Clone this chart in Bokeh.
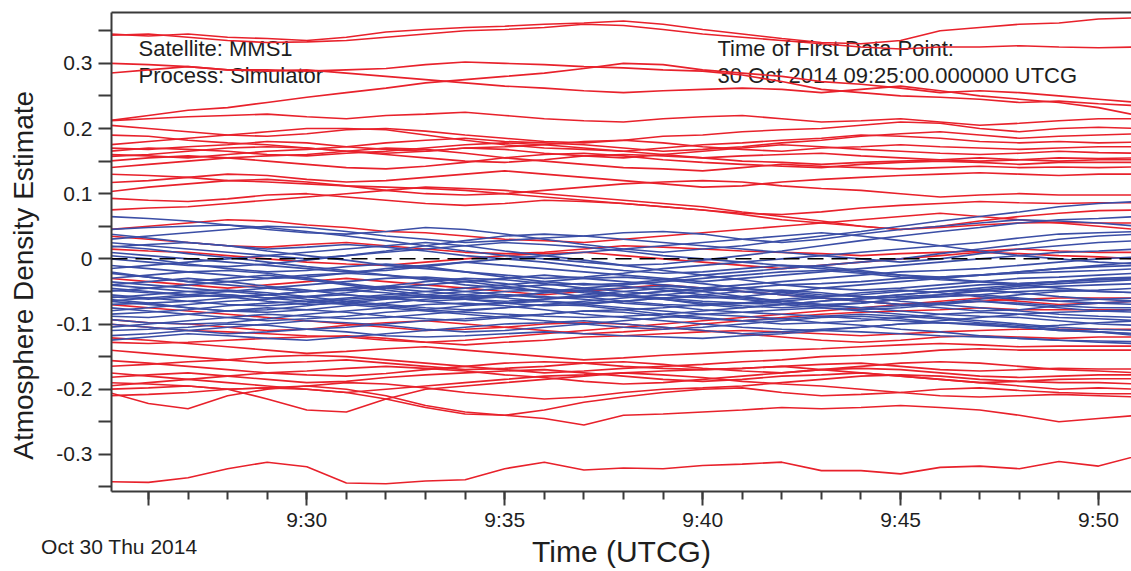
import pandas as pd
from bokeh.plotting import figure
from bokeh.models import (Range1d, FixedTicker, CustomJSTickFormatter, LinearAxis,
                          Label, Span)
from bokeh.embed import file_html
from bokeh.resources import INLINE

# ---------------- data ----------------
day = "2014-10-30"
minutes = ["09:25", "09:26", "09:27", "09:28", "09:29", "09:30", "09:31", "09:32", "09:33",
           "09:34", "09:35", "09:36", "09:37", "09:38", "09:39", "09:40", "09:41", "09:42",
           "09:43", "09:44", "09:45", "09:46", "09:47", "09:48", "09:49", "09:50", "09:51"]
x_major = ["09:30", "09:35", "09:40", "09:45", "09:50"]
date_tick = "09:26"
date_text = "Oct 30 Thu 2014"
x_title = "Time (UTCG)"
y_title = "Atmosphere Density Estimate"
x_start = "09:25:04"
x_end = "09:50:50"
y_major = [-0.3, -0.2, -0.1, 0, 0.1, 0.2, 0.3]
y_minor = [-0.35, -0.25, -0.15, -0.05, 0.05, 0.15, 0.25, 0.35]
y_low, y_high = -0.357, 0.378
info_left = ["Satellite: MMS1", "Process: Simulator"]
info_right = ["Time of First Data Point:", "30 Oct 2014 09:25:00.000000 UTCG"]

# red runs (outside bounds)
r01 = [0.345,0.342,0.345,0.34,0.338,0.335,0.34,0.348,0.352,0.355,0.357,0.36,0.362,0.365,0.36,0.352,0.345,0.338,0.332,0.33,0.335,0.35,0.355,0.36,0.362,0.368,0.37]
r02 = [0.343,0.345,0.34,0.335,0.332,0.333,0.335,0.34,0.345,0.35,0.352,0.355,0.36,0.358,0.352,0.345,0.34,0.335,0.33,0.325,0.322,0.325,0.325,0.327,0.325,0.324,0.325]
r03 = [0.30,0.298,0.295,0.29,0.29,0.288,0.29,0.292,0.298,0.302,0.3,0.298,0.295,0.293,0.29,0.288,0.282,0.272,0.26,0.255,0.25,0.248,0.245,0.24,0.242,0.238,0.235]
r04 = [0.285,0.29,0.295,0.29,0.288,0.29,0.285,0.28,0.275,0.27,0.265,0.262,0.258,0.255,0.258,0.26,0.262,0.26,0.255,0.26,0.265,0.258,0.25,0.245,0.24,0.232,0.22]
r05 = [0.212,0.22,0.228,0.232,0.24,0.248,0.255,0.262,0.27,0.275,0.28,0.285,0.292,0.3,0.298,0.29,0.285,0.28,0.272,0.268,0.262,0.255,0.258,0.255,0.25,0.245,0.24]
r06 = [0.212,0.215,0.218,0.22,0.222,0.218,0.215,0.22,0.222,0.225,0.22,0.215,0.212,0.21,0.215,0.218,0.22,0.215,0.21,0.212,0.215,0.21,0.205,0.208,0.212,0.215,0.215]
r07 = [0.205,0.2,0.195,0.19,0.188,0.192,0.198,0.2,0.196,0.19,0.185,0.18,0.178,0.182,0.188,0.19,0.195,0.198,0.2,0.205,0.21,0.208,0.2,0.195,0.2,0.202,0.2]
r08 = [0.175,0.18,0.185,0.19,0.195,0.2,0.2,0.198,0.19,0.182,0.175,0.17,0.168,0.165,0.17,0.175,0.178,0.182,0.185,0.19,0.188,0.185,0.18,0.178,0.18,0.178,0.179]
r09 = [0.17,0.168,0.172,0.175,0.18,0.178,0.172,0.168,0.165,0.17,0.172,0.175,0.18,0.182,0.178,0.172,0.168,0.165,0.17,0.172,0.175,0.172,0.17,0.168,0.17,0.172,0.172]
r10 = [0.165,0.17,0.168,0.165,0.16,0.158,0.162,0.165,0.17,0.175,0.178,0.175,0.17,0.165,0.16,0.155,0.158,0.16,0.162,0.158,0.155,0.152,0.15,0.152,0.155,0.154,0.155]
r11 = [0.157,0.16,0.165,0.17,0.172,0.17,0.165,0.16,0.155,0.15,0.148,0.152,0.158,0.16,0.158,0.155,0.15,0.148,0.145,0.148,0.15,0.152,0.155,0.152,0.15,0.152,0.152]
r12 = [0.15,0.155,0.158,0.155,0.15,0.145,0.14,0.138,0.142,0.148,0.155,0.16,0.162,0.158,0.152,0.148,0.145,0.142,0.14,0.145,0.148,0.15,0.148,0.145,0.148,0.148,0.148]
r13 = [0.14,0.145,0.15,0.155,0.158,0.16,0.165,0.17,0.168,0.162,0.155,0.15,0.145,0.14,0.138,0.135,0.14,0.145,0.142,0.14,0.138,0.14,0.142,0.14,0.141,0.14,0.141]
r14 = [0.117,0.12,0.125,0.13,0.128,0.122,0.118,0.12,0.125,0.13,0.135,0.13,0.125,0.12,0.115,0.11,0.112,0.118,0.122,0.125,0.128,0.13,0.132,0.13,0.128,0.13,0.13]
r15 = [0.103,0.11,0.115,0.12,0.122,0.118,0.112,0.105,0.1,0.098,0.1,0.105,0.11,0.115,0.118,0.12,0.118,0.112,0.108,0.105,0.1,0.095,0.098,0.1,0.098,0.098,0.098]
r16 = [0.093,0.09,0.088,0.092,0.098,0.1,0.095,0.09,0.085,0.082,0.085,0.09,0.088,0.085,0.08,0.075,0.07,0.068,0.072,0.078,0.082,0.085,0.088,0.086,0.085,0.086,0.086]
r17 = [0.075,0.078,0.08,0.085,0.09,0.095,0.1,0.105,0.11,0.108,0.105,0.1,0.095,0.09,0.085,0.08,0.072,0.065,0.058,0.05,0.045,0.05,0.058,0.065,0.07,0.074,0.075]
r18 = [0.13,0.128,0.125,0.12,0.118,0.115,0.112,0.11,0.108,0.105,0.1,0.095,0.09,0.085,0.08,0.075,0.068,0.06,0.055,0.05,0.045,0.048,0.052,0.055,0.056,0.055,0.055]
r19 = [0.045,0.05,0.055,0.06,0.058,0.052,0.048,0.042,0.04,0.035,0.03,0.028,0.025,0.03,0.035,0.04,0.045,0.05,0.055,0.06,0.065,0.07,0.065,0.06,0.055,0.05,0.045]
r20 = [0.035,0.03,0.025,0.02,0.018,0.022,0.025,0.02,0.015,0.01,0.008,0.01,0.015,0.02,0.018,0.015,0.012,0.01,0.008,0.005,0.008,0.01,0.012,0.015,0.012,0.01,0.01]
r21 = [0.015,0.012,0.01,0.005,0.0,-0.005,-0.008,-0.01,-0.005,0.0,0.005,0.008,0.01,0.005,0.0,-0.005,-0.01,-0.015,-0.01,-0.005,0.0,0.005,0.01,0.008,0.005,0.003,0.0]
r22 = [-0.03,-0.035,-0.04,-0.045,-0.04,-0.035,-0.03,-0.035,-0.04,-0.045,-0.05,-0.055,-0.05,-0.045,-0.04,-0.045,-0.05,-0.055,-0.06,-0.065,-0.07,-0.065,-0.06,-0.065,-0.07,-0.068,-0.065]
r23 = [-0.205,-0.222,-0.23,-0.21,-0.2,-0.195,-0.19,-0.192,-0.198,-0.205,-0.21,-0.215,-0.212,-0.205,-0.2,-0.198,-0.195,-0.19,-0.185,-0.18,-0.178,-0.18,-0.185,-0.188,-0.19,-0.19,-0.192]
r24 = [-0.2,-0.198,-0.195,-0.2,-0.215,-0.232,-0.235,-0.215,-0.2,-0.195,-0.19,-0.185,-0.18,-0.175,-0.172,-0.17,-0.168,-0.165,-0.162,-0.16,-0.165,-0.17,-0.172,-0.17,-0.168,-0.169,-0.169]
r25 = [-0.21,-0.208,-0.205,-0.2,-0.198,-0.2,-0.205,-0.215,-0.228,-0.238,-0.24,-0.245,-0.255,-0.24,-0.238,-0.235,-0.232,-0.228,-0.23,-0.228,-0.225,-0.228,-0.232,-0.24,-0.25,-0.245,-0.24]
r26 = [-0.19,-0.192,-0.195,-0.2,-0.198,-0.195,-0.2,-0.21,-0.225,-0.235,-0.24,-0.232,-0.22,-0.212,-0.205,-0.2,-0.198,-0.205,-0.21,-0.208,-0.205,-0.2,-0.198,-0.202,-0.205,-0.207,-0.207]
r27 = [-0.182,-0.178,-0.175,-0.18,-0.185,-0.19,-0.188,-0.182,-0.178,-0.175,-0.172,-0.17,-0.175,-0.18,-0.185,-0.188,-0.185,-0.18,-0.178,-0.175,-0.18,-0.185,-0.19,-0.188,-0.185,-0.184,-0.184]
r28 = [-0.156,-0.16,-0.165,-0.17,-0.175,-0.178,-0.18,-0.176,-0.17,-0.165,-0.16,-0.158,-0.16,-0.165,-0.168,-0.17,-0.168,-0.165,-0.17,-0.175,-0.18,-0.185,-0.19,-0.195,-0.2,-0.198,-0.2]
r29 = [-0.165,-0.162,-0.158,-0.155,-0.15,-0.148,-0.15,-0.155,-0.16,-0.165,-0.17,-0.175,-0.172,-0.168,-0.165,-0.162,-0.158,-0.155,-0.15,-0.148,-0.145,-0.14,-0.138,-0.14,-0.14,-0.14,-0.14]
r30 = [-0.121,-0.125,-0.13,-0.135,-0.14,-0.145,-0.142,-0.138,-0.135,-0.14,-0.145,-0.15,-0.155,-0.152,-0.148,-0.145,-0.142,-0.14,-0.138,-0.135,-0.132,-0.13,-0.132,-0.135,-0.134,-0.134,-0.134]
r31 = [-0.128,-0.13,-0.128,-0.125,-0.122,-0.12,-0.118,-0.122,-0.128,-0.132,-0.128,-0.125,-0.12,-0.118,-0.115,-0.112,-0.11,-0.112,-0.115,-0.118,-0.115,-0.112,-0.11,-0.108,-0.108,-0.108,-0.108]
r32 = [-0.093,-0.098,-0.1,-0.105,-0.11,-0.108,-0.102,-0.098,-0.095,-0.1,-0.105,-0.11,-0.115,-0.112,-0.108,-0.1,-0.095,-0.09,-0.085,-0.082,-0.08,-0.078,-0.075,-0.078,-0.078,-0.078,-0.078]
r33 = [-0.1,-0.105,-0.11,-0.112,-0.115,-0.118,-0.12,-0.125,-0.128,-0.125,-0.12,-0.115,-0.11,-0.105,-0.1,-0.095,-0.09,-0.085,-0.08,-0.075,-0.07,-0.068,-0.065,-0.062,-0.06,-0.06,-0.06]
r34 = [-0.14,-0.145,-0.15,-0.155,-0.16,-0.158,-0.155,-0.16,-0.165,-0.17,-0.168,-0.165,-0.16,-0.158,-0.162,-0.168,-0.172,-0.175,-0.17,-0.168,-0.17,-0.175,-0.18,-0.182,-0.18,-0.178,-0.178]
r35 = [-0.07,-0.075,-0.08,-0.085,-0.09,-0.095,-0.1,-0.105,-0.11,-0.108,-0.105,-0.1,-0.098,-0.1,-0.105,-0.11,-0.115,-0.12,-0.125,-0.128,-0.125,-0.12,-0.118,-0.12,-0.122,-0.12,-0.12]
r36 = [-0.342,-0.343,-0.336,-0.322,-0.312,-0.319,-0.344,-0.345,-0.341,-0.339,-0.322,-0.312,-0.324,-0.321,-0.322,-0.317,-0.315,-0.312,-0.325,-0.325,-0.33,-0.32,-0.318,-0.322,-0.311,-0.318,-0.302]
r37 = [0.19,0.188,0.182,0.178,0.175,0.17,0.165,0.162,0.165,0.17,0.168,0.162,0.158,0.155,0.16,0.165,0.17,0.175,0.172,0.168,0.165,0.162,0.16,0.162,0.165,0.163,0.162]
r38 = [0.16,0.158,0.155,0.16,0.165,0.168,0.172,0.178,0.182,0.185,0.18,0.178,0.175,0.17,0.165,0.168,0.172,0.178,0.182,0.188,0.192,0.195,0.19,0.185,0.188,0.19,0.192]
r39 = [-0.175,-0.18,-0.185,-0.19,-0.195,-0.2,-0.205,-0.2,-0.195,-0.19,-0.185,-0.18,-0.178,-0.175,-0.178,-0.182,-0.188,-0.192,-0.195,-0.2,-0.205,-0.21,-0.212,-0.21,-0.208,-0.21,-0.212]
r40 = [-0.195,-0.19,-0.185,-0.18,-0.175,-0.172,-0.168,-0.165,-0.168,-0.172,-0.178,-0.182,-0.188,-0.192,-0.19,-0.185,-0.18,-0.175,-0.17,-0.165,-0.16,-0.158,-0.16,-0.165,-0.17,-0.172,-0.175]

# blue runs (inside bounds)
b01 = [0.065,0.062,0.058,0.052,0.045,0.04,0.038,0.042,0.048,0.045,0.038,0.03,0.022,0.015,0.01,0.015,0.02,0.028,0.035,0.042,0.05,0.058,0.065,0.072,0.08,0.085,0.088]
b02 = [0.03,0.035,0.04,0.045,0.05,0.048,0.042,0.035,0.03,0.025,0.028,0.032,0.035,0.04,0.042,0.038,0.03,0.025,0.03,0.038,0.045,0.05,0.055,0.06,0.058,0.055,0.05]
b03 = [0.025,0.02,0.015,0.01,0.005,0.0,0.005,0.012,0.02,0.028,0.035,0.038,0.035,0.03,0.025,0.02,0.015,0.01,0.005,0.0,-0.005,0.0,0.008,0.015,0.02,0.025,0.028]
b04 = [0.018,0.022,0.025,0.02,0.012,0.005,-0.002,-0.01,-0.015,-0.02,-0.025,-0.03,-0.028,-0.022,-0.015,-0.01,-0.005,0.0,0.005,0.01,0.015,0.02,0.025,0.032,0.038,0.04,0.042]
b05 = [0.01,0.005,0.0,-0.005,-0.01,-0.015,-0.02,-0.018,-0.012,-0.005,0.0,0.005,0.01,0.015,0.02,0.025,0.03,0.035,0.04,0.035,0.028,0.02,0.012,0.005,0.0,-0.005,-0.008]
b06 = [-0.01,-0.015,-0.02,-0.025,-0.03,-0.028,-0.022,-0.015,-0.01,-0.005,-0.01,-0.015,-0.02,-0.025,-0.03,-0.035,-0.03,-0.025,-0.02,-0.015,-0.01,-0.005,0.0,0.005,0.01,0.012,0.015]
b07 = [-0.015,-0.01,-0.005,0.0,0.005,0.01,0.015,0.02,0.025,0.02,0.012,0.005,-0.002,-0.01,-0.018,-0.025,-0.032,-0.04,-0.045,-0.048,-0.045,-0.04,-0.035,-0.03,-0.028,-0.025,-0.022]
b08 = [-0.022,-0.028,-0.035,-0.04,-0.045,-0.05,-0.048,-0.042,-0.035,-0.03,-0.032,-0.038,-0.045,-0.05,-0.055,-0.06,-0.058,-0.052,-0.045,-0.04,-0.035,-0.03,-0.025,-0.02,-0.015,-0.012,-0.01]
b09 = [-0.03,-0.025,-0.02,-0.018,-0.022,-0.03,-0.038,-0.045,-0.05,-0.055,-0.06,-0.065,-0.068,-0.065,-0.06,-0.055,-0.05,-0.048,-0.052,-0.058,-0.065,-0.07,-0.075,-0.08,-0.085,-0.088,-0.09]
b10 = [-0.04,-0.045,-0.05,-0.055,-0.06,-0.058,-0.052,-0.045,-0.04,-0.035,-0.03,-0.025,-0.03,-0.035,-0.04,-0.045,-0.05,-0.055,-0.06,-0.065,-0.07,-0.068,-0.062,-0.055,-0.05,-0.048,-0.045]
b11 = [-0.048,-0.052,-0.055,-0.05,-0.045,-0.04,-0.035,-0.03,-0.028,-0.032,-0.038,-0.045,-0.052,-0.058,-0.062,-0.068,-0.072,-0.075,-0.072,-0.068,-0.062,-0.058,-0.055,-0.06,-0.065,-0.068,-0.07]
b12 = [-0.055,-0.06,-0.065,-0.07,-0.072,-0.068,-0.062,-0.058,-0.055,-0.05,-0.045,-0.04,-0.038,-0.042,-0.048,-0.055,-0.06,-0.065,-0.07,-0.075,-0.08,-0.085,-0.088,-0.09,-0.095,-0.1,-0.102]
b13 = [-0.06,-0.055,-0.05,-0.048,-0.052,-0.058,-0.065,-0.07,-0.075,-0.078,-0.075,-0.07,-0.065,-0.06,-0.055,-0.05,-0.045,-0.04,-0.038,-0.035,-0.03,-0.028,-0.025,-0.022,-0.02,-0.018,-0.015]
b14 = [-0.065,-0.07,-0.075,-0.08,-0.082,-0.078,-0.072,-0.068,-0.062,-0.058,-0.055,-0.058,-0.062,-0.068,-0.072,-0.078,-0.082,-0.085,-0.088,-0.092,-0.095,-0.098,-0.1,-0.105,-0.11,-0.112,-0.115]
b15 = [-0.07,-0.068,-0.065,-0.06,-0.055,-0.05,-0.045,-0.042,-0.045,-0.05,-0.055,-0.06,-0.058,-0.055,-0.05,-0.045,-0.04,-0.035,-0.03,-0.025,-0.02,-0.018,-0.015,-0.01,-0.005,0.0,0.003]
b16 = [-0.075,-0.08,-0.085,-0.09,-0.095,-0.092,-0.088,-0.082,-0.078,-0.072,-0.068,-0.065,-0.07,-0.075,-0.08,-0.085,-0.082,-0.078,-0.075,-0.08,-0.085,-0.09,-0.095,-0.1,-0.105,-0.108,-0.11]
b17 = [-0.085,-0.082,-0.078,-0.072,-0.068,-0.065,-0.06,-0.055,-0.05,-0.045,-0.04,-0.035,-0.03,-0.028,-0.032,-0.038,-0.045,-0.052,-0.058,-0.055,-0.05,-0.045,-0.04,-0.038,-0.035,-0.032,-0.03]
b18 = [-0.093,-0.098,-0.1,-0.098,-0.092,-0.085,-0.08,-0.075,-0.07,-0.068,-0.072,-0.078,-0.085,-0.09,-0.095,-0.1,-0.105,-0.108,-0.11,-0.112,-0.115,-0.118,-0.12,-0.122,-0.125,-0.128,-0.13]
b19 = [-0.118,-0.115,-0.11,-0.105,-0.1,-0.095,-0.098,-0.102,-0.108,-0.112,-0.11,-0.105,-0.1,-0.095,-0.09,-0.085,-0.088,-0.092,-0.098,-0.102,-0.108,-0.112,-0.118,-0.122,-0.125,-0.126,-0.127]
b20 = [-0.125,-0.12,-0.115,-0.118,-0.122,-0.125,-0.12,-0.115,-0.11,-0.105,-0.1,-0.098,-0.095,-0.1,-0.105,-0.11,-0.115,-0.112,-0.108,-0.105,-0.1,-0.095,-0.09,-0.085,-0.082,-0.08,-0.078]
b21 = [0.045,0.048,0.05,0.052,0.048,0.042,0.035,0.028,0.02,0.012,0.005,0.0,-0.005,-0.01,-0.008,-0.002,0.005,0.012,0.02,0.028,0.035,0.042,0.048,0.055,0.06,0.062,0.065]
b22 = [0.0,-0.005,-0.01,-0.012,-0.008,-0.002,0.005,0.01,0.015,0.02,0.025,0.022,0.018,0.012,0.005,0.0,-0.005,-0.01,-0.015,-0.02,-0.025,-0.03,-0.035,-0.04,-0.045,-0.05,-0.052]
b23 = [-0.035,-0.04,-0.045,-0.05,-0.055,-0.062,-0.068,-0.072,-0.078,-0.082,-0.085,-0.088,-0.09,-0.088,-0.085,-0.08,-0.075,-0.07,-0.065,-0.06,-0.055,-0.05,-0.045,-0.04,-0.035,-0.03,-0.028]
b24 = [-0.05,-0.045,-0.04,-0.035,-0.03,-0.025,-0.022,-0.025,-0.03,-0.035,-0.042,-0.05,-0.058,-0.065,-0.07,-0.072,-0.068,-0.062,-0.058,-0.052,-0.048,-0.052,-0.058,-0.062,-0.065,-0.062,-0.06]
b25 = [-0.058,-0.062,-0.058,-0.055,-0.06,-0.065,-0.07,-0.075,-0.08,-0.085,-0.09,-0.095,-0.1,-0.105,-0.108,-0.105,-0.1,-0.095,-0.09,-0.088,-0.092,-0.098,-0.102,-0.105,-0.102,-0.098,-0.095]
b26 = [-0.08,-0.075,-0.07,-0.065,-0.062,-0.058,-0.055,-0.06,-0.065,-0.062,-0.058,-0.052,-0.048,-0.045,-0.042,-0.045,-0.05,-0.055,-0.06,-0.062,-0.058,-0.055,-0.05,-0.045,-0.042,-0.04,-0.038]
b27 = [-0.1,-0.105,-0.11,-0.115,-0.112,-0.108,-0.105,-0.1,-0.095,-0.092,-0.088,-0.085,-0.08,-0.078,-0.075,-0.07,-0.068,-0.07,-0.075,-0.078,-0.075,-0.07,-0.065,-0.068,-0.072,-0.075,-0.075]
b28 = [0.02,0.015,0.008,0.002,-0.005,-0.012,-0.018,-0.025,-0.032,-0.04,-0.045,-0.05,-0.045,-0.04,-0.035,-0.03,-0.025,-0.02,-0.018,-0.022,-0.028,-0.032,-0.035,-0.038,-0.035,-0.032,-0.03]
b29 = [-0.045,-0.05,-0.055,-0.058,-0.055,-0.05,-0.048,-0.052,-0.058,-0.062,-0.065,-0.062,-0.058,-0.055,-0.05,-0.048,-0.045,-0.05,-0.055,-0.058,-0.06,-0.058,-0.055,-0.05,-0.048,-0.05,-0.052]
b30 = [-0.11,-0.108,-0.105,-0.1,-0.102,-0.108,-0.112,-0.118,-0.12,-0.118,-0.115,-0.112,-0.115,-0.118,-0.12,-0.122,-0.118,-0.115,-0.11,-0.105,-0.1,-0.098,-0.1,-0.105,-0.11,-0.112,-0.115]
b31 = [-0.02,-0.028,-0.035,-0.03,-0.025,-0.032,-0.04,-0.048,-0.055,-0.06,-0.058,-0.052,-0.048,-0.055,-0.062,-0.07,-0.075,-0.07,-0.065,-0.06,-0.055,-0.05,-0.048,-0.052,-0.058,-0.062,-0.065]
b32 = [-0.065,-0.06,-0.055,-0.058,-0.065,-0.07,-0.068,-0.062,-0.058,-0.062,-0.068,-0.072,-0.07,-0.065,-0.06,-0.058,-0.062,-0.068,-0.072,-0.075,-0.072,-0.068,-0.065,-0.07,-0.075,-0.08,-0.082]
b33 = [-0.088,-0.09,-0.085,-0.08,-0.075,-0.078,-0.082,-0.088,-0.092,-0.095,-0.09,-0.085,-0.08,-0.082,-0.088,-0.092,-0.095,-0.1,-0.098,-0.095,-0.09,-0.085,-0.082,-0.085,-0.09,-0.092,-0.095]
b34 = [0.005,0.0,-0.008,-0.015,-0.02,-0.018,-0.012,-0.008,-0.012,-0.02,-0.028,-0.035,-0.04,-0.038,-0.032,-0.025,-0.02,-0.015,-0.01,-0.005,0.0,0.008,0.015,0.022,0.03,0.035,0.038]
b35 = [-0.04,-0.035,-0.03,-0.035,-0.042,-0.048,-0.055,-0.06,-0.065,-0.07,-0.068,-0.062,-0.055,-0.05,-0.045,-0.05,-0.058,-0.065,-0.07,-0.068,-0.062,-0.055,-0.048,-0.042,-0.038,-0.035,-0.032]
b36 = [-0.105,-0.1,-0.095,-0.09,-0.085,-0.088,-0.092,-0.09,-0.085,-0.08,-0.075,-0.07,-0.072,-0.078,-0.085,-0.09,-0.095,-0.092,-0.088,-0.085,-0.088,-0.092,-0.098,-0.102,-0.108,-0.112,-0.118]
b37 = [0.038,0.032,0.025,0.02,0.015,0.018,0.022,0.018,0.012,0.005,0.0,-0.005,-0.012,-0.018,-0.022,-0.02,-0.015,-0.01,-0.012,-0.018,-0.025,-0.028,-0.025,-0.02,-0.015,-0.01,-0.005]
b38 = [-0.062,-0.068,-0.075,-0.08,-0.078,-0.072,-0.065,-0.06,-0.058,-0.055,-0.05,-0.048,-0.05,-0.055,-0.06,-0.065,-0.068,-0.065,-0.06,-0.065,-0.07,-0.075,-0.08,-0.078,-0.072,-0.068,-0.065]

red_runs = [r01, r02, r03, r04, r05, r06, r07, r08, r09, r10, r11, r12, r13, r14, r15, r16, r17, r18,
            r19, r20, r21, r22, r23, r24, r25, r26, r27, r28, r29, r30, r31, r32, r33, r34, r35, r36,
            r37, r38, r39, r40]
blue_runs = [b01, b02, b03, b04, b05, b06, b07, b08, b09, b10, b11, b12, b13, b14, b15,
             b16, b17, b18, b19, b20, b21, b22, b23, b24, b25, b26, b27, b28, b29, b30,
             b31, b32, b33, b34, b35, b36, b37, b38]

# ---------------- helpers ----------------
def ms(hhmm):
    return pd.Timestamp(f"{day} {hhmm}").value / 1e6

t_ms = [ms(m) for m in minutes]
NB = "\u00a0"

FONT = "Liberation Sans"
TXT = "#1e1e1e"
AX = "#3a3a3a"
RED = "#e8212b"
BLUE = "#3b4ea6"

p = figure(width=1131, height=571, x_axis_type="datetime", output_backend="svg",
           toolbar_location=None, min_border_left=111, min_border_right=0,
           min_border_top=12, min_border_bottom=78,
           x_range=Range1d(ms(x_start), ms(x_end)), y_range=Range1d(y_low, y_high))
p.outline_line_color = None
p.xgrid.visible = False
p.ygrid.visible = False
p.background_fill_color = "white"
p.border_fill_color = "white"

# in-plot texts (under the lines)
for txt, sx, sy in [(info_left[0], 27, 443), (info_left[1], 27, 416),
                    (info_right[0], 606, 443), (info_right[1], 606, 416)]:
    p.add_layout(Label(x=sx, y=sy, x_units="screen", y_units="screen", text=txt,
                       text_font=FONT, text_font_size="22px", text_color=TXT,
                       text_baseline="alphabetic", level="underlay"))

p.multi_line([t_ms[:len(v)] for v in red_runs], red_runs, line_color=RED, line_width=1.6)
p.multi_line([t_ms[:len(v)] for v in blue_runs], blue_runs, line_color=BLUE, line_width=1.6)

p.add_layout(Span(location=0, dimension="width", line_color="black", line_width=1.5,
                  line_dash="16 8"))

# x axis: minute ticks, 5-minute labels, plus the date in a second line
xa = p.xaxis[0]
xa.ticker = FixedTicker(ticks=[ms(date_tick)] + [ms(m) for m in x_major], minor_ticks=t_ms)
xa.formatter = CustomJSTickFormatter(
    args=dict(date_tick=ms(date_tick), date_text=date_text + NB * 10),
    code="""
if (Math.abs(tick - date_tick) < 1) { return '\\u00a0\\n' + date_text; }
const d = new Date(tick);
return d.getUTCHours() + ':' + String(d.getUTCMinutes()).padStart(2, '0');
""")
xa.major_tick_out = 14
xa.major_tick_in = 0
xa.minor_tick_out = 8
xa.minor_tick_in = 0
xa.major_label_standoff = 2
xa.axis_label = x_title
xa.axis_label_text_font = FONT
xa.axis_label_text_font_size = "30px"
xa.axis_label_text_font_style = "normal"
xa.axis_label_text_color = TXT
xa.axis_label_standoff = -26

ya = p.yaxis[0]
ya.ticker = FixedTicker(ticks=y_major, minor_ticks=y_minor)
ya.formatter = CustomJSTickFormatter(code="return tick == 0 ? '0' : tick.toFixed(1);")
ya.major_tick_out = 13
ya.major_tick_in = 0
ya.minor_tick_out = 13
ya.minor_tick_in = 0
ya.major_label_standoff = 6
ya.axis_label = y_title + NB * 6
ya.axis_label_text_font = FONT
ya.axis_label_text_font_size = "28px"
ya.axis_label_text_font_style = "normal"
ya.axis_label_text_color = TXT
ya.axis_label_standoff = 14

for ax in (xa, ya):
    ax.axis_line_color = AX
    ax.axis_line_width = 2
    ax.major_tick_line_color = AX
    ax.major_tick_line_width = 2
    ax.minor_tick_line_color = AX
    ax.minor_tick_line_width = 2
    ax.major_label_text_font = FONT
    ax.major_label_text_font_size = "21px"
    ax.major_label_text_color = TXT

top = LinearAxis(ticker=FixedTicker(ticks=[]), major_label_text_font_size="0px",
                 major_tick_out=0, major_tick_in=0, minor_tick_out=0, minor_tick_in=0,
                 major_label_standoff=0, axis_line_color=AX, axis_line_width=2)
p.add_layout(top, "above")

open("out.html", "w").write(file_html(p, INLINE))
